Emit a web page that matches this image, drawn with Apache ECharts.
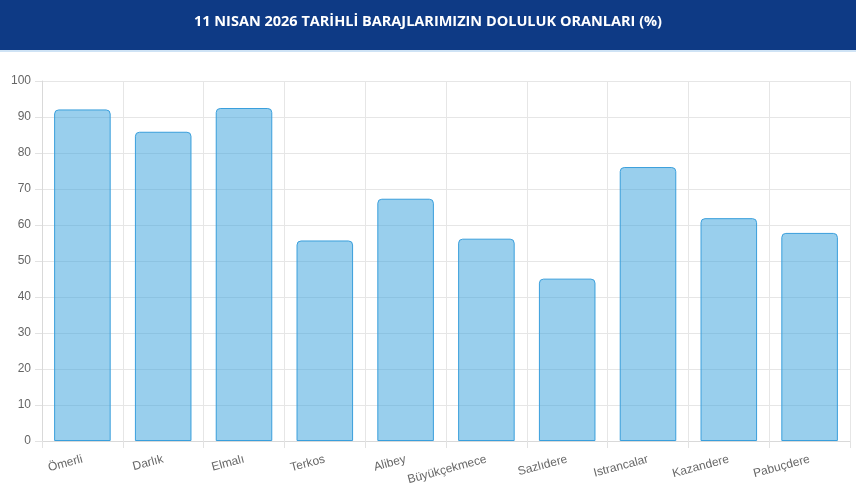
<!DOCTYPE html>
<html>
<head>
<meta charset="utf-8">
<script src="https://cdn.jsdelivr.net/npm/echarts@6/dist/echarts.min.js"></script>
<style>
  html, body { margin: 0; padding: 0; background: #fff; }
  #main { width: 856px; height: 491px; }
</style>
</head>
<body>
<div id="main"></div>
<script>
var titleText = '11 NISAN 2026 TARİHLİ BARAJLARIMIZIN DOLULUK ORANLARI (%)'
var barajlar = ['Ömerli', 'Darlık', 'Elmalı', 'Terkos', 'Alibey', 'Büyükçekmece', 'Sazlıdere', 'Istrancalar', 'Kazandere', 'Pabuçdere']
var doluluk = [92.1, 85.9, 92.5, 55.7, 67.3, 56.2, 45.1, 76.1, 61.9, 57.8]

var chart = echarts.init(document.getElementById('main'))

// ust serit + baslik
var options = {
  animation: false,
  graphic: [{
    type: 'rect',
    shape: { x: 0, y: 0, width: 856, height: 50 },
    style: { fill: '#0e3a85' }
  }, {
    type: 'rect',
    shape: { x: 0, y: 50, width: 856, height: 2 },
    style: { fill: '#cfe3f5' }
  }, {
    type: 'text',
    x: 428,
    y: 22,
    style: {
      text: titleText,
      fill: '#ffffff',
      font: 'bold 14.5px "Open Sans", sans-serif',
      align: 'center',
      verticalAlign: 'middle'
    }
  }],
  grid: {
    left: 42,
    right: 6,
    top: 81,
    bottom: 50
  },
  xAxis: {
    type: 'category',
    data: barajlar,
    axisLine: { lineStyle: { color: '#d9d9d9' } },
    axisTick: { show: true, length: 7, lineStyle: { color: '#e2e2e2' } },
    splitLine: { show: true, lineStyle: { color: '#e6e6e6' } },
    axisLabel: {
      rotate: 15,
      interval: 0,
      color: '#666',
      fontSize: 12,
      fontFamily: 'Liberation Sans, Arial, sans-serif',
      margin: 18
    }
  },
  yAxis: {
    type: 'value',
    min: 0,
    max: 100,
    interval: 10,
    axisLine: { show: true, lineStyle: { color: '#d9d9d9' } },
    axisTick: { show: true, length: 7, lineStyle: { color: '#e2e2e2' } },
    splitLine: { lineStyle: { color: '#e6e6e6' } },
    axisLabel: {
      color: '#666',
      fontSize: 12,
      fontFamily: 'Liberation Sans, Arial, sans-serif',
      margin: 11
    }
  },
  series: [{
    type: 'bar',
    data: doluluk,
    barWidth: '70%',
    itemStyle: {
      color: 'rgba(52, 160, 220, 0.5)',
      borderColor: '#3a9fdc',
      borderWidth: 1,
      borderRadius: [4, 4, 0, 0]
    }
  }]
}
chart.setOption(options);
</script>
</body>
</html>
